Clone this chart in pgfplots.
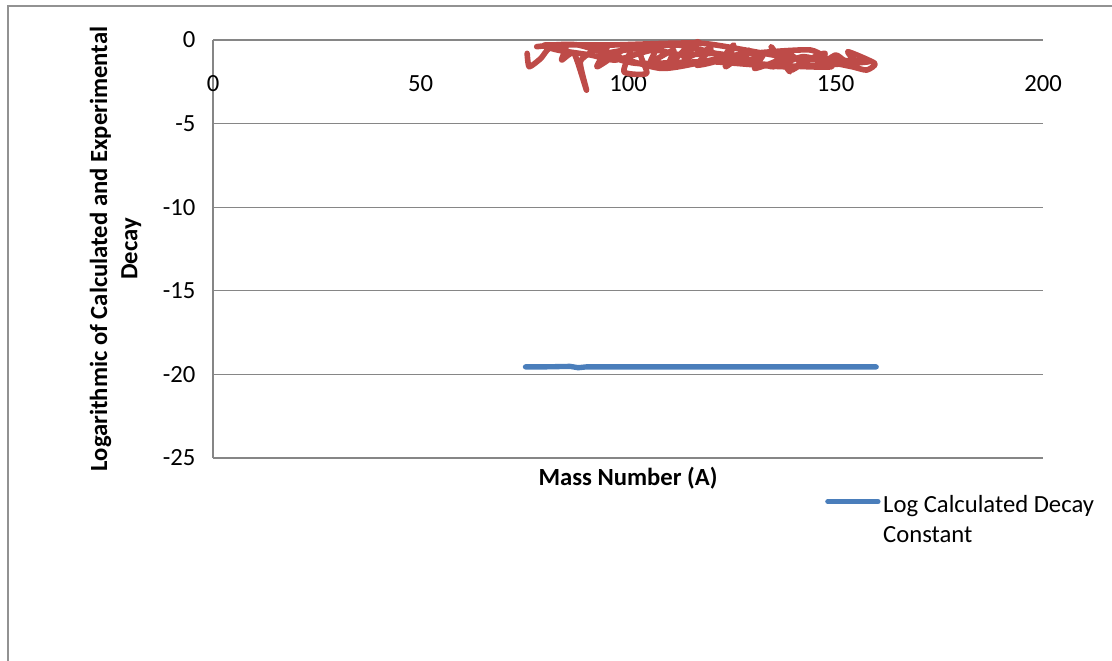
\documentclass[border=0pt]{standalone}
\usepackage{pgfplots}
\pgfplotsset{compat=1.18}
\usepackage{fontspec}
\setmainfont{Carlito}
\definecolor{xlred}{HTML}{BE4B48}
\definecolor{xlblue}{HTML}{4A7EBB}
\definecolor{xlgray}{HTML}{868686}
\begin{document}
\begin{tikzpicture}
\useasboundingbox (0pt,0pt) rectangle (834pt,495pt);
\draw[xlgray!90, line width=1.5pt] (6pt,-10pt) -- (6pt,490.5pt) -- (850pt,490.5pt);
\begin{axis}[
  at={(159.75pt,151.5pt)}, anchor=south west, scale only axis,
  width=622.5pt, height=313.5pt,
  xmin=0, xmax=200, ymin=-25, ymax=0,
  xtick={0,50,...,200}, ytick={-25,-20,...,0},
  axis x line*=bottom, axis y line*=left,
  x axis line style={draw=none},
  y axis line style={draw=xlgray, line width=1pt},
  ymajorgrids, grid style={xlgray, line width=1pt},
  major tick style={draw=none},
  clip=false,
  tick label style={font=\fontsize{18.5}{22.6}\selectfont},
  /pgf/number format/assume math mode=true,
  xticklabel style={anchor=center, yshift=281pt},
  yticklabel style={xshift=-9.6pt},
  xlabel={Mass Number (A)},
  xlabel style={at={(axis description cs:0.5,0)}, anchor=center, yshift=-15pt,
    font=\bfseries\fontsize{18.5}{22.6}\selectfont},
  ylabel={Logarithmic of Calculated and Experimental\\Decay},
  ylabel style={at={(axis description cs:-0.1175,0.5)}, anchor=center, align=center,
    font=\bfseries\fontsize{18.5}{22.6}\selectfont},
  legend style={at={(axis description cs:0.7373,-0.0813)}, anchor=north west,
    draw=none, fill=none, font=\fontsize{18.5}{22.6}\selectfont,
    cells={align=left}, inner sep=0pt},
  legend image code/.code={\path[draw=none] (0pt,-13.5pt) -- (37.5pt,-13.5pt);
    \draw[#1] (0pt,13.5pt) -- (37.5pt,13.5pt);},
]
\addplot[xlblue, line width=4pt, line cap=round] coordinates {
(75.3,-19.55) (80,-19.55) (86,-19.52) (88,-19.6) (90,-19.55) (100,-19.55)
(110,-19.55) (120,-19.55) (130,-19.55) (140,-19.55) (150,-19.55) (159.8,-19.55)
};
\addlegendentry{Log Calculated Decay\\Constant}
\addplot[xlred, line width=4.2pt, line cap=round, line join=round, smooth, tension=0.35, forget plot] coordinates {
(75.7,-0.8) (76.2,-1.6) (79,-1.1) (81,-0.5) (85,-0.4) (84,-1.2) (87,-0.8)
(90,-3.0) (88.5,-1.3) (92,-0.6) (95,-0.4) (92.5,-1.6) (97,-0.9) (101,-0.3)
(99,-1.9) (104.5,-2.0) (103,-0.8) (107,-0.4) (105.5,-1.3) (111,-0.6) (109.5,-1.6)
(114,-0.5) (117,-0.1) (113.5,-1.1) (120,-0.5) (116.5,-1.5) (122,-1.2) (125.5,-0.3)
(123.5,-1.6) (129,-0.6) (127.5,-1.4) (132.5,-0.9) (130.5,-1.7) (136,-1.2)
(134.5,-0.4) (139,-1.9) (137.5,-0.7) (141.5,-1.3) (139.5,-1.8) (145,-1.0)
(147.5,-0.8) (146,-1.5) (150,-0.9) (152,-1.2) (155,-1.4) (153,-0.7)
(159.5,-1.4) (157.5,-1.8) (154,-1.6) (148,-1.3) (142,-1.0) (135,-1.6)
(128,-1.1) (121,-0.8) (113,-0.9) (106,-0.6) (97,-1.2) (91,-0.9) (83,-0.6)
(80,-0.3) (96,-0.3) (118,-0.2) (140,-1.1) (158,-1.3) (138,-1.6) (120,-1.3)
(102,-1.4) (95,-0.8) (112,-0.3) (131,-1.4) (149,-1.6) (144,-0.6) (126,-0.9)
(108,-1.7) (88,-0.3) (78,-0.4)
};
\end{axis}
\end{tikzpicture}
\end{document}
